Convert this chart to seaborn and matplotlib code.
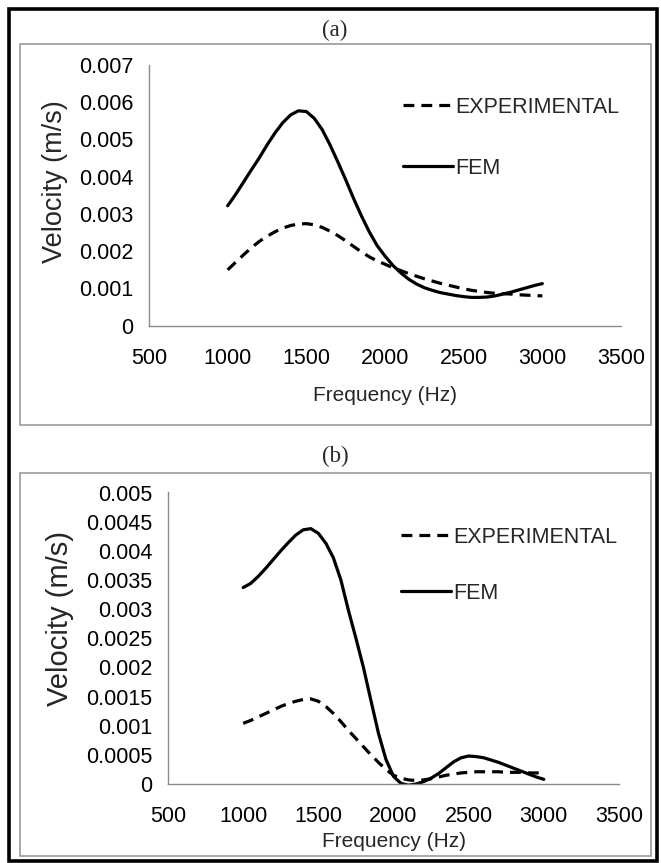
import numpy as np
import pandas as pd
import matplotlib
matplotlib.use("Agg")
import matplotlib.pyplot as plt
from matplotlib.patches import Rectangle
import seaborn as sns

# ---------------- data (every 50 Hz) ----------------
freq = [1000, 1050, 1100, 1150, 1200, 1250, 1300, 1350, 1400, 1450, 1500,
        1550, 1600, 1650, 1700, 1750, 1800, 1850, 1900, 1950, 2000,
        2050, 2100, 2150, 2200, 2250, 2300, 2350, 2400, 2450, 2500,
        2550, 2600, 2650, 2700, 2750, 2800, 2850, 2900, 2950, 3000]

fem_a = [0.00322, 0.00352, 0.00385, 0.00418, 0.00450, 0.00485, 0.00517, 0.00545,
         0.00566, 0.00577, 0.00575, 0.00557, 0.00527, 0.00486, 0.00440, 0.00392,
         0.00342, 0.00295, 0.00252, 0.00215, 0.00187, 0.00162, 0.00142, 0.00125,
         0.00112, 0.00102, 0.00095, 0.00089, 0.00085, 0.00081, 0.00078, 0.00076,
         0.00076, 0.00077, 0.00080, 0.00085, 0.00090, 0.00096, 0.00102, 0.00108,
         0.00113]
exp_a = [0.00150, 0.00170, 0.00190, 0.00209, 0.00226, 0.00240, 0.00252, 0.00262,
         0.00269, 0.00273, 0.00274, 0.00271, 0.00264, 0.00254, 0.00242, 0.00228,
         0.00213, 0.00198, 0.00185, 0.00174, 0.00165, 0.00156, 0.00148, 0.00140,
         0.00133, 0.00126, 0.00120, 0.00114, 0.00109, 0.00104, 0.00099, 0.00095,
         0.00092, 0.00089, 0.00087, 0.00086, 0.00085, 0.00083, 0.00082, 0.00081,
         0.00080]

fem_b = [0.00337, 0.00344, 0.00356, 0.00370, 0.00385, 0.00400, 0.00414, 0.00427,
         0.00436, 0.00438, 0.00430, 0.00413, 0.00388, 0.00350, 0.00298, 0.00250,
         0.00200, 0.00143, 0.00087, 0.00042, 0.00013, 0.00001, -0.00002, 0.00000,
         0.00004, 0.00010, 0.00018, 0.00028, 0.00038, 0.00045, 0.00048, 0.00047,
         0.00045, 0.00041, 0.00037, 0.00032, 0.00027, 0.00022, 0.00017, 0.00012,
         0.00008]
exp_b = [0.00104, 0.00109, 0.00115, 0.00121, 0.00127, 0.00133, 0.00138, 0.00142,
         0.00145, 0.00146, 0.00142, 0.00133, 0.00121, 0.00107, 0.00092, 0.00078,
         0.00064, 0.00050, 0.00037, 0.00025, 0.00015, 0.00010, 0.00007, 0.00006,
         0.00007, 0.00009, 0.00012, 0.00015, 0.00017, 0.00019, 0.00020, 0.00021,
         0.00021, 0.00021, 0.00021, 0.00020, 0.00020, 0.00020, 0.00019, 0.00019,
         0.00019]

series_names = ["EXPERIMENTAL", "FEM"]
panel_titles = ["(a)", "(b)"]
x_ticks = [500, 1000, 1500, 2000, 2500, 3000, 3500]
y_ticks_a = [0, 0.001, 0.002, 0.003, 0.004, 0.005, 0.006, 0.007]
y_labels_a = ["0", "0.001", "0.002", "0.003", "0.004", "0.005", "0.006", "0.007"]
y_ticks_b = [0, 0.0005, 0.001, 0.0015, 0.002, 0.0025, 0.003, 0.0035, 0.004, 0.0045, 0.005]
y_labels_b = ["0", "0.0005", "0.001", "0.0015", "0.002", "0.0025", "0.003", "0.0035",
              "0.004", "0.0045", "0.005"]
x_label = "Frequency (Hz)"
y_label = "Velocity (m/s)"

# ---------------- style ----------------
sns.set_theme(style="white")
plt.rcParams["font.family"] = ["Liberation Sans", "DejaVu Sans"]

W, H = 661, 863
fig = plt.figure(figsize=(W / 100, H / 100), dpi=100)
fig.patch.set_facecolor("white")


def rect_px(x0, y0, x1, y1):
    return [x0 / W, (H - y1) / H, (x1 - x0) / W, (y1 - y0) / H]


# outer black frame and grey panel frames
fig.patches.append(Rectangle((9 / W, (H - 861) / H), (657 - 9) / W, (861 - 9) / H,
                             transform=fig.transFigure, fill=False, lw=2.6,
                             edgecolor="black"))
for (x0, y0, x1, y1) in [(20, 44, 651, 425), (20, 473, 651, 856)]:
    fig.patches.append(Rectangle((x0 / W, (H - y1) / H), (x1 - x0) / W, (y1 - y0) / H,
                                 transform=fig.transFigure, fill=False, lw=1.2,
                                 edgecolor="#9a9a9a"))

fig.text(335 / W, 1 - 30 / H, panel_titles[0], ha="center", va="center",
         fontsize=16.5, family="Liberation Serif")
fig.text(335 / W, 1 - 456 / H, panel_titles[1], ha="center", va="center",
         fontsize=16.5, family="Liberation Serif")

panels = [
    dict(rect=rect_px(149, 65, 621, 325.7), fem=fem_a, exp=exp_a, ylim=(0, 0.007),
         yt=y_ticks_a, yl=y_labels_a, xlab_y=-0.266, ylab_x=-0.199, ylab_y=0.552,
         leg=(403, 97), ylab_fs=19.5, lsp=1.85),
    dict(rect=rect_px(168, 492.5, 619, 784), fem=fem_b, exp=exp_b, ylim=(0, 0.005),
         yt=y_ticks_b, yl=y_labels_b, xlab_y=-0.196, ylab_x=-0.239, ylab_y=0.569,
         leg=(401, 527), ylab_fs=21, lsp=1.62),
]

for p in panels:
    ax = fig.add_axes(p["rect"])
    df = pd.DataFrame({
        "Frequency": freq * 2,
        "Velocity": p["exp"] + p["fem"],
        "Series": [series_names[0]] * len(freq) + [series_names[1]] * len(freq),
    })
    sns.lineplot(data=df, x="Frequency", y="Velocity", style="Series",
                 style_order=series_names,
                 dashes={"EXPERIMENTAL": (3.4, 2.2), "FEM": ""},
                 color="black", lw=2.3, ax=ax, legend=True, sort=False)
    for ln in ax.lines:
        ln.set_solid_joinstyle("round")
        ln.set_dash_joinstyle("round")
    ax.set_xlim(500, 3500)
    ax.set_ylim(*p["ylim"])
    ax.set_xticks(x_ticks)
    ax.set_xticklabels([str(v) for v in x_ticks])
    ax.set_yticks(p["yt"])
    ax.set_yticklabels(p["yl"])
    for s in ["top", "right"]:
        ax.spines[s].set_visible(False)
    for s in ["left", "bottom"]:
        ax.spines[s].set_color("#8c8c8c")
        ax.spines[s].set_linewidth(1.0)
    ax.tick_params(axis="both", which="major", direction="out", length=5,
                   width=1, color="#8c8c8c", labelsize=15.5, labelcolor="black")
    ax.tick_params(axis="x", pad=11)
    ax.tick_params(axis="y", pad=6)
    ax.set_facecolor("none")
    ax.grid(False)

    ax.set_xlabel(x_label, fontsize=15)
    ax.xaxis.set_label_coords(0.5, p["xlab_y"])
    ax.xaxis.label.set_va("center")
    ax.set_ylabel(y_label, fontsize=p["ylab_fs"])
    ax.yaxis.set_label_coords(p["ylab_x"], p["ylab_y"])
    ax.yaxis.label.set_va("center")

    handles, labels = ax.get_legend_handles_labels()
    lx, ly = p["leg"]
    ax.legend(handles, labels, loc="upper left",
              bbox_to_anchor=(lx / W, 1 - ly / H), bbox_transform=fig.transFigure,
              frameon=False, fontsize=15.5, handlelength=2.3, handletextpad=0.15,
              labelspacing=p["lsp"], borderpad=0, borderaxespad=0)

fig.savefig("out.png", dpi=100, facecolor="white")
